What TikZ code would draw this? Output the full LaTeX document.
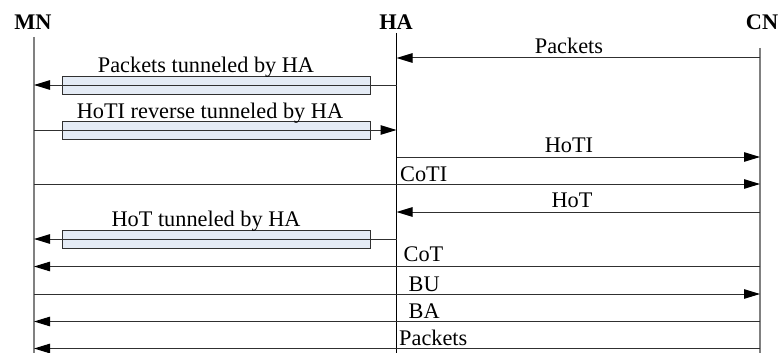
\documentclass[tikz,border=0pt]{standalone}
\usepackage{fontspec}
\setmainfont{Liberation Serif}
\usetikzlibrary{arrows.meta}
\definecolor{lifegray}{HTML}{808080}
\definecolor{msggray}{HTML}{303030}
\definecolor{tunfill}{HTML}{E4EBF5}
\tikzset{
  lbl/.style={inner sep=0pt, anchor=base, font=\fontsize{22.3}{26}\selectfont},
  lbll/.style={lbl, anchor=base west},
  head/.style={lbl, font=\fontsize{22.3}{26}\selectfont\bfseries},
  lifeline/.style={line width=1.6pt, draw=lifegray},
  halife/.style={line width=1.5pt, draw=black},
  msg/.style={line width=1pt, draw=msggray, -{Triangle[length=16pt,width=9.5pt,fill=black,color=black]}},
  tunnel/.style={draw=msggray, line width=1pt, fill=tunfill, minimum width=308pt, minimum height=18pt, inner sep=0pt}
}
\begin{document}
\begin{tikzpicture}[x=1pt, y=-1pt]
  \useasboundingbox (0,0) rectangle (781,353);
  % entity heads
  \node[head] (MN) at (33,30) {MN};
  \node[head] (HA) at (396,30) {HA};
  \node[head] (CN) at (762,30) {CN};
  % lifeline ends
  \coordinate (mnTop) at (34,37);
  \coordinate (haTop) at (396.5,33);
  \coordinate (cnTop) at (760,48);
  \coordinate (mnBot) at (34,353);
  \coordinate (haBot) at (396.5,353);
  \coordinate (cnBot) at (760,353);
  \draw[lifeline] (mnTop) -- (mnBot);
  \draw[lifeline] (cnTop) -- (cnBot);
  \draw[halife] (haTop) -- (haBot);
  % message rows
  \coordinate (r1) at (0,58);
  \coordinate (r2) at (0,85);
  \coordinate (r3) at (0,130);
  \coordinate (r4) at (0,157);
  \coordinate (r5) at (0,184);
  \coordinate (r6) at (0,212);
  \coordinate (r7) at (0,239);
  \coordinate (r8) at (0,266.5);
  \coordinate (r9) at (0,294);
  \coordinate (r10) at (0,321.5);
  \coordinate (r11) at (0,348.5);
  % tunnel bars
  \node[tunnel] (tun1) at (216,85) {};
  \node[tunnel] (tun2) at (216,130) {};
  \node[tunnel] (tun3) at (216,239) {};
  % messages
  \draw[msg] (cnTop |- r1) -- (haTop |- r1);
  \node[lbl] (l1) at (569,53) {Packets};
  \draw[msg] (haTop |- r2) -- (mnTop |- r2);
  \node[lbl] (l2) at (206,72.5) {Packets tunneled by HA};
  \draw[msg] (mnTop |- r3) -- (haTop |- r3);
  \node[lbl] (l3) at (210,118) {HoTI reverse tunneled by HA};
  \draw[msg] (haTop |- r4) -- (cnTop |- r4);
  \node[lbl] (l4) at (569,152) {HoTI};
  \draw[msg] (mnTop |- r5) -- (cnTop |- r5);
  \node[lbll] (l5) at (400,181.5) {CoTI};
  \draw[msg] (cnTop |- r6) -- (haTop |- r6);
  \node[lbl] (l6) at (572,207.5) {HoT};
  \draw[msg] (haTop |- r7) -- (mnTop |- r7);
  \node[lbl] (l7) at (206,226) {HoT tunneled by HA};
  \draw[msg] (cnTop |- r8) -- (mnTop |- r8);
  \node[lbll] (l8) at (403.5,261) {CoT};
  \draw[msg] (mnTop |- r9) -- (cnTop |- r9);
  \node[lbll] (l9) at (408.5,291) {BU};
  \draw[msg] (cnTop |- r10) -- (mnTop |- r10);
  \node[lbll] (l10) at (408.5,318) {BA};
  \draw[msg] (cnTop |- r11) -- (mnTop |- r11);
  \node[lbll] (l11) at (399,345) {Packets};
\end{tikzpicture}
\end{document}
